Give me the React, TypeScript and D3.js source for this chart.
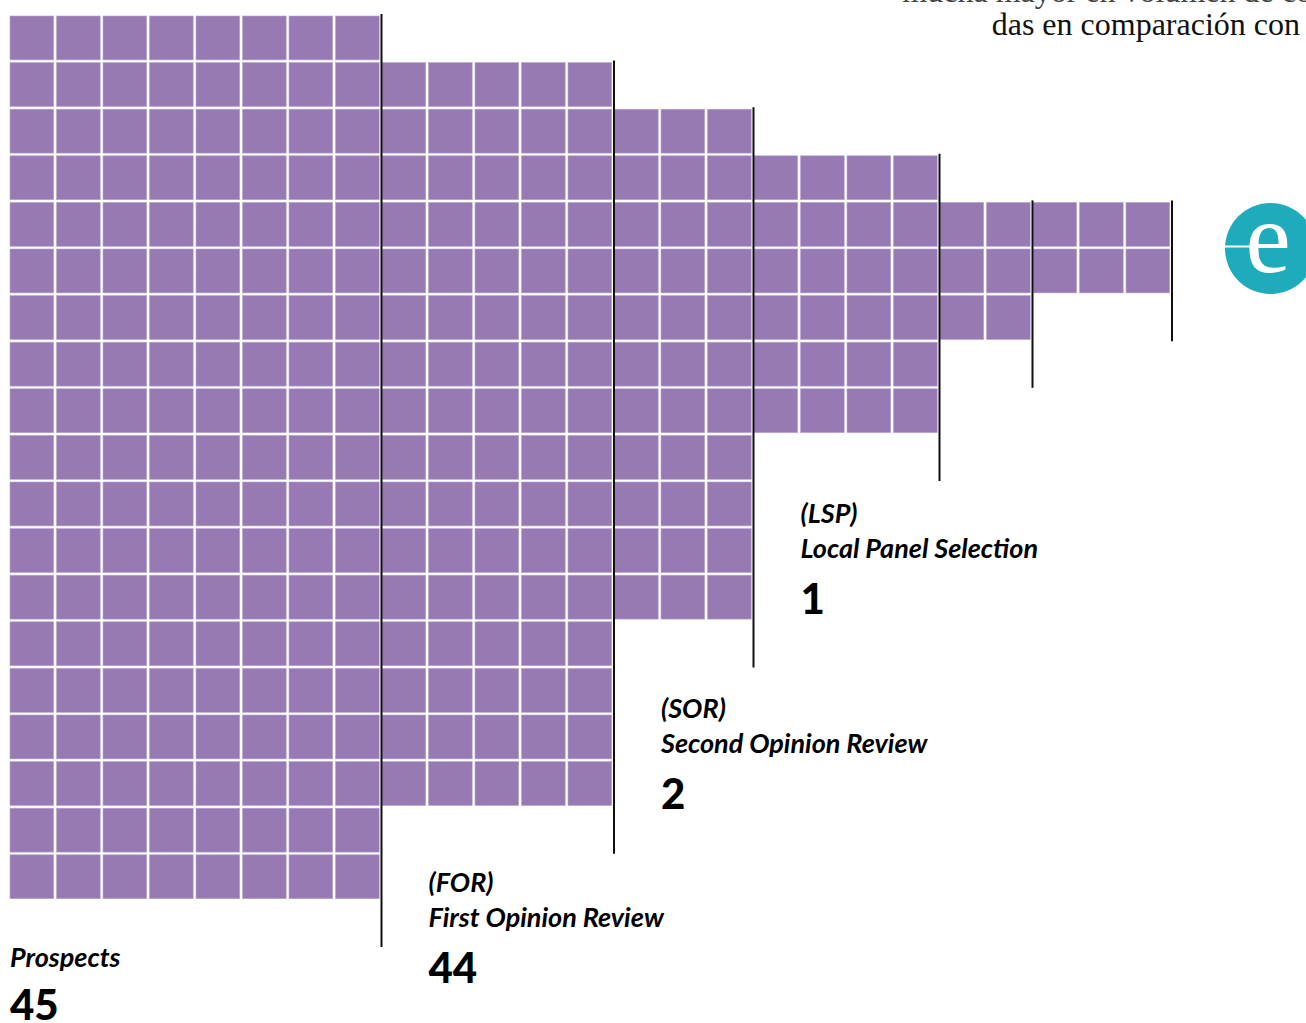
import React, { useEffect, useRef } from "react";
import * as d3 from "d3";

// funnel stages, left to right
const stageCodes = ["", "(FOR)", "(SOR)", "(LSP)", "", ""];
const stageNames = ["Prospects", "First Opinion Review", "Second Opinion Review", "Local Panel Selection", "", ""];
const stageTotals = ["45", "44", "2", "1", "", ""];
// how many squares each block has (columns x rows) and which row it starts on
const stageCols = [8, 5, 3, 4, 2, 3];
const stageRows = [19, 16, 11, 6, 3, 2];
const stageStartRow = [0, 1, 2, 3, 4, 4];

const headerLines = ["mucha mayor en volumen de co", "das en comparación con"];

const W = 1306;
const H = 1023;
const PURPLE = "#9779b4";
const TEAL = "#1eacbc";
const labelFont = "Lato, 'Noto Sans', sans-serif";

// baseline of first label line for each stage (layout only)
const labelBase = [932, 892, 718, 523];

const App = () => {
  const ref = useRef(null);

  useEffect(() => {
    const svg = d3.select(ref.current);
    svg.selectAll("*").remove();

    const totalCols = d3.sum(stageCols);
    const totalRows = d3.max(stageRows.map((r, i) => r + stageStartRow[i]));
    const x = d3.scaleLinear().domain([0, totalCols]).range([10, 10 + totalCols * 46.5]);
    const y = d3.scaleLinear().domain([0, totalRows]).range([16, 16 + totalRows * 46.6]);
    const cw = 43.7;
    const ch = 43.9;

    const colStart = d3.cumsum([0, ...stageCols]);

    const cells = [];
    stageCols.forEach((nc, g) => {
      for (let c = 0; c < nc; c++) {
        for (let r = 0; r < stageRows[g]; r++) {
          cells.push({ col: colStart[g] + c, row: stageStartRow[g] + r });
        }
      }
    });

    svg
      .append("g")
      .selectAll("rect")
      .data(cells)
      .join("rect")
      .attr("x", d => x(d.col))
      .attr("y", d => y(d.row))
      .attr("width", cw)
      .attr("height", ch)
      .attr("fill", PURPLE)
      .attr("stroke", "#b9a5cf")
      .attr("stroke-width", 0.6);

    // separator lines at the right edge of each block
    svg
      .append("g")
      .selectAll("line")
      .data(stageCols)
      .join("line")
      .attr("x1", (d, i) => x(colStart[i + 1]) - 0.5)
      .attr("x2", (d, i) => x(colStart[i + 1]) - 0.5)
      .attr("y1", (d, i) => y(stageStartRow[i]) - 2)
      .attr("y2", (d, i) => y(stageStartRow[i] + stageRows[i] + 1) - 1)
      .attr("stroke", "#111")
      .attr("stroke-width", 2);

    // labels
    const labels = svg
      .append("g")
      .selectAll("g")
      .data(stageNames.filter(n => n))
      .join("g")
      .attr("transform", (d, i) => `translate(${i === 0 ? x(0) : x(colStart[i] + 1)},${labelBase[i]})`)
      .attr("font-family", labelFont);

    labels
      .append("text")
      .attr("y", 0)
      .attr("font-size", 27)
      .attr("font-weight", 700)
      .attr("font-style", "italic")
      .text((d, i) => stageCodes[i]);

    labels
      .append("text")
      .attr("y", 35)
      .attr("font-size", 27)
      .attr("font-weight", 700)
      .attr("font-style", "italic")
      .text(d => d);

    labels
      .append("text")
      .attr("y", (d, i) => (i === 0 ? 88 : 91))
      .attr("font-size", 42)
      .attr("font-weight", 900)
      .text((d, i) => stageTotals[i]);

    // header text, cut by the top edge
    svg
      .append("g")
      .selectAll("text")
      .data(headerLines)
      .join("text")
      .attr("x", (d, i) => (i === 0 ? 1312 : 1300))
      .attr("y", (d, i) => 2 + i * 33)
      .attr("text-anchor", "end")
      .attr("font-family", "'Liberation Serif', serif")
      .attr("font-size", 32)
      .attr("fill", (d, i) => (i === 0 ? "#444" : "#111"))
      .text(d => d);

    // logo
    const logo = svg.append("g").attr("transform", "translate(1270.5,248.5)");
    logo.append("circle").attr("r", 45.5).attr("fill", TEAL);
    logo
      .append("line")
      .attr("x1", -46)
      .attr("x2", -20)
      .attr("y1", -2)
      .attr("y2", -2)
      .attr("stroke", "#fff")
      .attr("stroke-width", 2);
    logo
      .append("text")
      .attr("x", -25)
      .attr("y", 23)
      .attr("font-family", "'Liberation Serif', serif")
      .attr("font-size", 102)
      .attr("fill", "#fff")
      .text("e");
  }, []);

  return (
    <div style={{ position: "absolute", left: 0, top: 0 }}>
      <svg ref={ref} width={W} height={H} style={{ display: "block", background: "#fff" }} />
    </div>
  );
};

export default App;
